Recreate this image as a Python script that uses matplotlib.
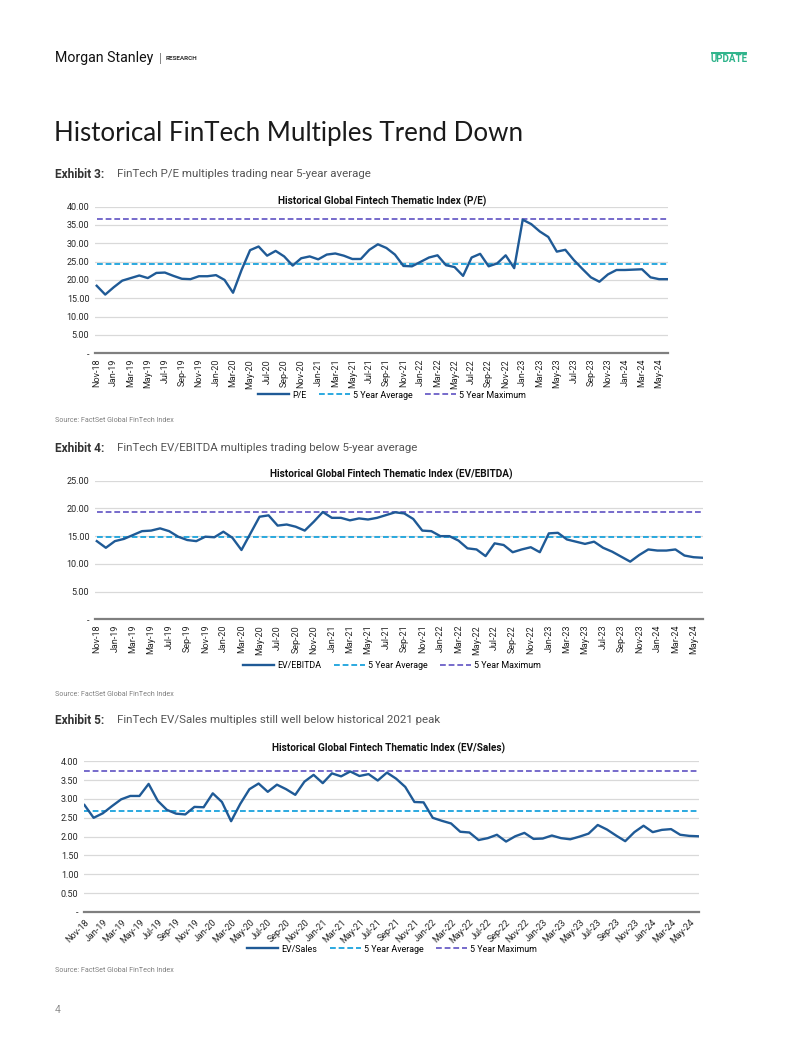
import matplotlib
matplotlib.use("Agg")
import matplotlib.pyplot as plt
from matplotlib.lines import Line2D

# ---------------- data ----------------
months = ["Nov-18","Dec-18","Jan-19","Feb-19","Mar-19","Apr-19","May-19","Jun-19","Jul-19","Aug-19",
          "Sep-19","Oct-19","Nov-19","Dec-19","Jan-20","Feb-20","Mar-20","Apr-20","May-20","Jun-20",
          "Jul-20","Aug-20","Sep-20","Oct-20","Nov-20","Dec-20","Jan-21","Feb-21","Mar-21","Apr-21",
          "May-21","Jun-21","Jul-21","Aug-21","Sep-21","Oct-21","Nov-21","Dec-21","Jan-22","Feb-22",
          "Mar-22","Apr-22","May-22","Jun-22","Jul-22","Aug-22","Sep-22","Oct-22","Nov-22","Dec-22",
          "Jan-23","Feb-23","Mar-23","Apr-23","May-23","Jun-23","Jul-23","Aug-23","Sep-23","Oct-23",
          "Nov-23","Dec-23","Jan-24","Feb-24","Mar-24","Apr-24","May-24","Jun-24"]

pe = [18.4,16.0,18.0,19.8,20.5,21.2,20.5,21.9,22.0,21.1,
      20.3,20.2,21.0,21.0,21.3,20.0,16.5,22.7,28.1,29.1,
      26.6,27.9,26.4,23.9,25.9,26.4,25.6,26.9,27.2,26.6,
      25.7,25.7,28.2,29.7,28.7,26.9,23.8,23.7,24.9,26.1,
      26.7,24.0,23.5,21.1,26.1,27.1,23.7,24.5,26.7,23.2,
      36.4,35.2,33.2,31.7,27.7,28.2,25.4,23.0,20.7,19.5,
      21.5,22.7,22.7,22.8,22.9,20.7,20.2,20.2]
pe_avg = 24.2
pe_max = 36.5

ev_ebitda = [14.1,12.9,14.1,14.5,15.2,15.9,16.0,16.4,15.9,14.9,
             14.3,14.1,14.9,14.8,15.8,14.7,12.5,15.5,18.5,18.75,
             16.9,17.1,16.7,16.0,17.6,19.35,18.3,18.3,17.85,18.2,
             18.0,18.3,18.8,19.3,19.1,18.1,16.0,15.9,15.0,15.0,
             14.2,12.8,12.6,11.4,13.7,13.4,12.1,12.6,13.0,12.1,
             15.5,15.6,14.4,14.0,13.6,14.0,12.9,12.2,11.3,10.4,
             11.6,12.6,12.4,12.4,12.6,11.5,11.2,11.1]
ev_ebitda_avg = 14.8
ev_ebitda_max = 19.35

ev_sales = [2.84,2.50,2.62,2.81,2.99,3.08,3.08,3.40,2.95,2.71,
            2.61,2.59,2.79,2.78,3.15,2.92,2.41,2.87,3.26,3.41,
            3.19,3.38,3.26,3.11,3.46,3.64,3.42,3.68,3.60,3.73,
            3.61,3.66,3.49,3.70,3.54,3.32,2.92,2.91,2.50,2.42,
            2.35,2.13,2.11,1.91,1.96,2.05,1.87,2.01,2.10,1.94,
            1.95,2.03,1.96,1.93,2.00,2.08,2.31,2.19,2.03,1.88,
            2.12,2.29,2.12,2.18,2.20,2.05,2.02,2.01]
ev_sales_avg = 2.68
ev_sales_max = 3.74

# ---------------- style ----------------
W, H = 802, 1037
fig = plt.figure(figsize=(W / 100, H / 100), dpi=100)
fig.patch.set_facecolor("white")

MAIN = "#1F5A96"
AVG = "#1AA3DD"
MAX = "#6B5FC7"
GRID = "#D9D9D9"
AXIS = "#7F7F7F"
TXT = "#262626"
COND = ["Roboto", "DejaVu Sans"]


def fx(x):
    return x / W


def fy(y):
    return 1 - y / H


def page_text(x, y, s, **kw):
    fig.text(fx(x), fy(y), s, **kw)


# header
page_text(55, 58, "Morgan Stanley", fontsize=10.2, family=COND, color="#111111", va="center")
page_text(159, 58, "|", fontsize=9, family=["Roboto"], color="#777777", va="center")
page_text(166, 58.5, "RESEARCH", fontsize=4.6, family=["Roboto"], fontweight="bold",
          color="#333333", va="center")
fig.add_artist(Line2D([fx(712), fx(746)], [fy(52.5), fy(52.5)], color="#2DB38A", lw=1.4))
page_text(729, 59, "UPDATE", fontsize=7, family=["Roboto"], fontweight="bold",
          color="#2DB38A", va="center", ha="center")

# page title
page_text(54, 133, "Historical FinTech Multiples Trend Down", fontsize=18.6,
          family=["Lato", "Open Sans"], fontweight="normal", color="#1a1a1a", va="center")


def exhibit(y, num, desc):
    page_text(55, y, num, fontsize=8.6, family=["Roboto"], fontweight="bold", color="#333333", va="center")
    page_text(117, y, desc, fontsize=8.25, family=["Roboto"], color="#555555", va="center")


def source(y):
    page_text(55, y, "Source: FactSet Global FinTech Index", fontsize=5.1,
              family=["Roboto"], color="#808080", va="center")


exhibit(174, "Exhibit 3:", "FinTech P/E multiples trading near 5-year average")
exhibit(448, "Exhibit 4:", "FinTech EV/EBITDA multiples trading below 5-year average")
exhibit(720, "Exhibit 5:", "FinTech EV/Sales multiples still well below historical 2021 peak")
source(420)
source(694)
source(970)
page_text(55, 1010, "4", fontsize=7.5, family=["Roboto"], color="#909090", va="center")


def chart(box, values, avg, mx, label, ymax, ystep, title, title_y, legend_y,
          xlim, rot, title_x=382):
    left, right, top, bottom = box
    ax = fig.add_axes([fx(left), fy(bottom), fx(right) - fx(left), fy(top) - fy(bottom)])
    x = list(range(len(values)))
    ax.plot(x, values, color=MAIN, lw=1.7, label=label, solid_joinstyle="round", zorder=4)
    ax.plot([x[0], x[-1]], [avg, avg], color=AVG, lw=1.3, ls=(0, (3.2, 1.6)),
            label="5 Year Average", zorder=3)
    ax.plot([x[0], x[-1]], [mx, mx], color=MAX, lw=1.3, ls=(0, (3.2, 1.6)),
            label="5 Year Maximum", zorder=3)
    ax.set_xlim(*xlim)
    ax.set_ylim(0, ymax)
    yt = [i * ystep for i in range(int(round(ymax / ystep)) + 1)]
    ax.set_yticks(yt)
    ax.set_yticklabels(["-" if v == 0 else f"{v:.2f}" for v in yt],
                       fontsize=6.5, family=COND, color=TXT)
    ax.yaxis.grid(True, color=GRID, lw=0.9)
    ax.set_axisbelow(True)
    ax.set_xticks(x[::2])
    if rot == 90:
        ax.set_xticklabels(months[::2], rotation=90, fontsize=6.5, family=COND, color=TXT,
                           ha="center", va="top")
    else:
        ax.set_xticklabels(months[::2], rotation=45, fontsize=6.5, family=COND, color=TXT,
                           ha="right", va="top", rotation_mode="anchor")
    ax.tick_params(axis="both", length=0, pad=4)
    for s in ["top", "right", "left"]:
        ax.spines[s].set_visible(False)
    ax.spines["bottom"].set_color(AXIS)
    ax.spines["bottom"].set_linewidth(1.6)
    ax.spines["bottom"].set_zorder(5)
    fig.text(fx(title_x), fy(title_y), title, fontsize=7.2, family=COND, fontweight="bold",
             color="#111111", ha="center", va="center")
    handles, labels = ax.get_legend_handles_labels()
    fig.legend(handles, labels, loc="center", bbox_to_anchor=(fx(392), fy(legend_y)),
               ncol=3, frameon=False, handlelength=3.5, columnspacing=1.4,
               handletextpad=0.35, prop={"family": COND, "size": 6.4})
    return ax


chart((95, 668, 206.5, 353.3), pe, pe_avg, pe_max, "P/E", 40, 5,
      "Historical Global Fintech Thematic Index (P/E)", 201, 395, (-0.2, 67.05), 90)
chart((95, 703, 480.7, 619.3), ev_ebitda, ev_ebitda_avg, ev_ebitda_max, "EV/EBITDA", 25, 5,
      "Historical Global Fintech Thematic Index (EV/EBITDA)", 474, 666, (-0.2, 67.05), 90,
      title_x=391)
chart((84, 699, 761.3, 912), ev_sales, ev_sales_avg, ev_sales_max, "EV/Sales", 4.0, 0.5,
      "Historical Global Fintech Thematic Index (EV/Sales)", 748, 949, (-0.05, 67.05), 45,
      title_x=389)

fig.savefig("out.png", dpi=100, facecolor="white")
